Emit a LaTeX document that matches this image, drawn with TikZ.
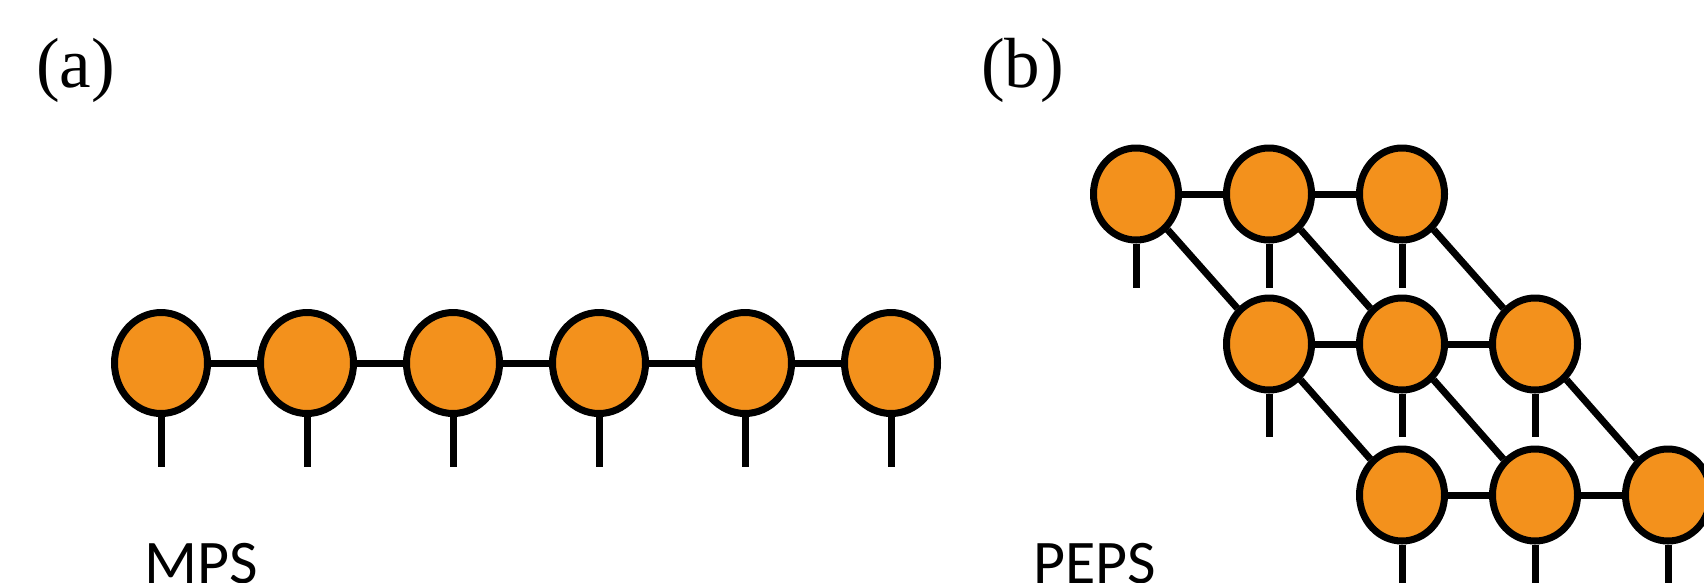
\documentclass[tikz,border=0pt]{standalone}
\usepackage{fontspec}
\usetikzlibrary{shapes.geometric}
\newfontfamily\labelfont{Liberation Serif}
\newfontfamily\namefont{Carlito}
\definecolor{tn}{HTML}{F3911C}
\begin{document}
\begin{tikzpicture}[x=1pt,y=-1pt,
  tensor/.style={ellipse, draw=black, fill=tn, line width=7pt, inner sep=0pt, minimum width=93pt, minimum height=101pt},
  ptensor/.style={tensor, minimum width=85pt, minimum height=92pt},
  bond/.style={line width=7pt},
  panel/.style={anchor=base west, inner sep=0pt, font=\labelfont\fontsize{71}{80}\selectfont},
  caption/.style={anchor=base west, inner sep=0pt, font=\namefont\fontsize{62}{70}\selectfont}]
\useasboundingbox (0,0) rectangle (1704,582);
% labels
\node[panel] (la) at (36,87) {(a)};
\node[panel] (lb) at (981,87) {(b)};
\node[caption] (cmps) at (144,583) {MPS};
\node[caption] (cpeps) at (1033,583) {PEPS};
% MPS
\foreach \i/\x in {1/161,2/307,3/453,4/599,5/745,6/891}{
  \node[tensor] (m\i) at (\x,363) {};
  \coordinate (mleg\i) at (\x,467);
  \draw[bond] (m\i.south) -- (mleg\i);
}
\foreach \i/\j in {1/2,2/3,3/4,4/5,5/6}{
  \draw[bond] (m\i) -- (m\j);
}
% PEPS
\foreach \r/\y/\e in {1/194/288,2/344/437,3/495/600}{
  \foreach \c in {1,2,3}{
    \pgfmathsetmacro{\xx}{1136+133*(\r-1)+133*(\c-1)}
    \node[ptensor] (p\r\c) at (\xx,\y) {};
    \coordinate (pleg\r\c) at (\xx,\e);
    \draw[bond] (p\r\c.south) -- (pleg\r\c);
  }
}
\foreach \r in {1,2,3}{
  \draw[bond] (p\r1) -- (p\r2);
  \draw[bond] (p\r2) -- (p\r3);
}
\foreach \c in {1,2,3}{
  \draw[bond] (p1\c) -- (p2\c);
  \draw[bond] (p2\c) -- (p3\c);
}
\end{tikzpicture}
\end{document}
